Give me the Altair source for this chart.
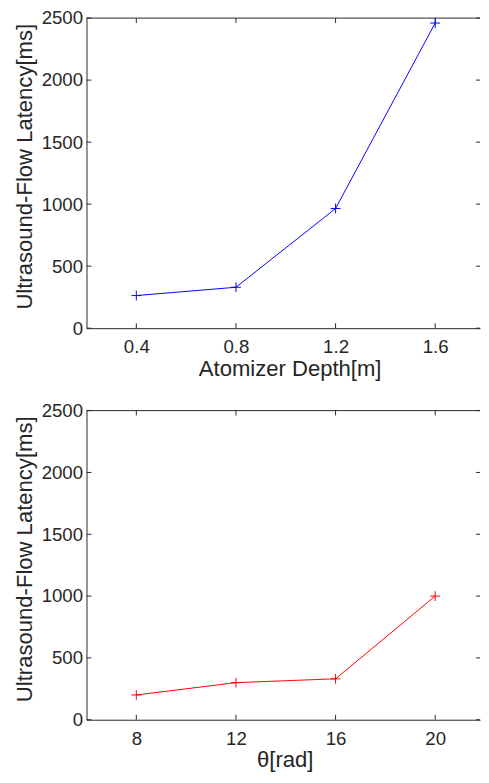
import altair as alt
import pandas as pd

# ---- data ----
depth = [0.4, 0.8, 1.2, 1.6]
depth_latency = [263, 330, 965, 2460]
theta = [8, 12, 16, 20]
theta_latency = [200, 300, 331, 1000]
depth_ticks = [0.4, 0.8, 1.2, 1.6]
theta_ticks = [8, 12, 16, 20]
y_ticks = [0, 500, 1000, 1500, 2000, 2500]

W = 401
AX = "#262626"
FONT = "Liberation Sans"
PLUS = "M-1,0H1M0,-1V1"


def panel(xs, ys, xticks, xdomain, xfmt, xtitle, title_x, color, H):
    df = pd.DataFrame({"x": xs, "y": ys})
    dxt = pd.DataFrame({"x": xticks})
    dyt = pd.DataFrame({"y": y_ticks})
    one = pd.DataFrame({"a": [0]})
    xscale = alt.Scale(domain=xdomain, nice=False, zero=False)
    yscale = alt.Scale(domain=[0, 2500], nice=False)
    xaxis = alt.Axis(values=xticks, format=xfmt, ticks=False, grid=False,
                     title=xtitle, labelPadding=10, titlePadding=1, titleX=title_x,
                     labelFontSize=19, titleFontSize=22.5, titleFontWeight="normal",
                     labelColor=AX, titleColor=AX, domainColor=AX, domainWidth=1)
    yaxis = alt.Axis(values=y_ticks, format="d", ticks=False, grid=False,
                     title="Ultrasound-Flow Latency[ms]", labelPadding=4, titlePadding=5,
                     titleY=151,
                     labelFontSize=19, titleFontSize=22.5, titleFontWeight="normal",
                     labelColor=AX, titleColor=AX, domainColor=AX, domainWidth=1)
    X = lambda: alt.X("x:Q", scale=xscale, axis=xaxis)
    Y = lambda: alt.Y("y:Q", scale=yscale, axis=yaxis)

    line = alt.Chart(df).mark_line(color=color, strokeWidth=1).encode(x=X(), y=Y())
    pts = alt.Chart(df).mark_point(shape=PLUS, size=100, filled=False,
                                   strokeWidth=1, color=color, opacity=1).encode(x=X(), y=Y())
    xt_bot = alt.Chart(dxt).mark_rule(color=AX, strokeWidth=1).encode(
        x=X(), y=alt.value(H), y2=alt.value(H - 5))
    xt_top = alt.Chart(dxt).mark_rule(color=AX, strokeWidth=1).encode(
        x=X(), y=alt.value(0), y2=alt.value(5))
    yt_left = alt.Chart(dyt).mark_rule(color=AX, strokeWidth=1).encode(
        y=Y(), x=alt.value(0), x2=alt.value(5))
    yt_right = alt.Chart(dyt).mark_rule(color=AX, strokeWidth=1).encode(
        y=Y(), x=alt.value(W - 4), x2=alt.value(W))
    top_line = alt.Chart(one).mark_rule(color=AX, strokeWidth=1).encode(
        x=alt.value(0), x2=alt.value(W), y=alt.value(0))
    return alt.layer(xt_bot, xt_top, yt_left, yt_right, top_line, line, pts).properties(
        width=W, height=H)


top = panel(depth, depth_latency, depth_ticks, [0.2, 1.78], ".1f",
            "Atomizer Depth[m]", 207, "#0000ff", 316)
bottom = panel(theta, theta_latency, theta_ticks, [6, 21.8], "d",
               "θ[rad]", 202, "#ff0000", 315)

chart = alt.vconcat(top, bottom, spacing=84, bounds="flush").properties(
    padding={"left": 5, "top": -6, "right": 0, "bottom": -6}
).configure(font=FONT).configure_view(stroke=None)

chart.save("out.html", embed_options={"renderer": "svg", "actions": False})
